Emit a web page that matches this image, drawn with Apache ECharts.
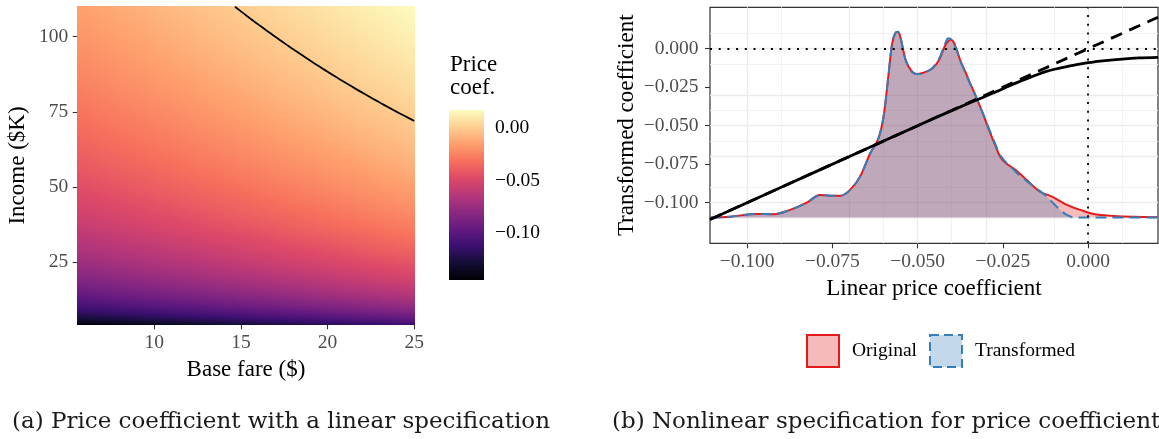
<!DOCTYPE html>
<html>
<head>
<meta charset="utf-8">
<script src="https://cdn.jsdelivr.net/npm/echarts@6/dist/echarts.min.js"></script>
<style>
  html, body { margin: 0; padding: 0; background: #fff; }
  #chart { width: 1159px; height: 439px; }
</style>
</head>
<body>
<div id="chart"></div>
<script>
// ---------- Panel (a): linear specification  β = β0 + βfare·fare + βinc·ln(income) ----------
const surfaceTerms = [-0.2105, 0.00163, 0.0397];   // intercept, base fare ($), ln income ($K)
const fareRange = [5.59, 25];
const incomeRange = [4.2, 110];
const fareTicks = [10, 15, 20, 25];
const incomeTicks = [25, 50, 75, 100];
const coefRange = [-0.1444, 0.0174];
const coefTicks = [0, -0.05, -0.10];
const magma = ['#000004', '#140E36', '#3B0F70', '#641A80', '#8C2981', '#B73779',
               '#DE4968', '#F7705C', '#FE9F6D', '#FECF92', '#FCFDBF'];

// ---------- Panel (b): density of linear vs transformed coefficients ----------
const linearRange = [-0.1109, 0.0205];
const transRange = [-0.1264, 0.0269];
const linTicks = [-0.1, -0.075, -0.05, -0.025, 0];
const transTicks = [0, -0.025, -0.05, -0.075, -0.1];
const linMinor = [-0.0875, -0.0625, -0.0375, -0.0125, 0.0125];
const transMinor = [0.025, 0.0125, -0.0125, -0.0375, -0.0625, -0.0875, -0.1125, -0.125];
const zeroLines = [0];
const densityBase = -0.1097;
const densityX = [-0.1109, -0.1050, -0.0972, -0.0923, -0.0874, -0.0825, -0.0786, -0.0757, -0.0727,
  -0.0698, -0.0669, -0.0639, -0.0615, -0.0600, -0.0586, -0.0575, -0.0566, -0.0558, -0.0550, -0.0535,
  -0.0519, -0.0504, -0.0483, -0.0457, -0.0437, -0.0421, -0.0410, -0.0402, -0.0395, -0.0385, -0.0375,
  -0.0360, -0.0344, -0.0330, -0.0317, -0.0302, -0.0287, -0.0272, -0.0258, -0.0240, -0.0219, -0.0200,
  -0.0180, -0.0160, -0.0141, -0.0121, -0.0106, -0.0082, -0.0062, -0.0043, -0.0023, 0.0016, 0.0074,
  0.0130, 0.0205];
const densityOriginal = [-0.1097, -0.1091, -0.1073, -0.1075, -0.1047, -0.1000, -0.0950, -0.0955, -0.0955,
  -0.0917, -0.0831, -0.0679, -0.0582, -0.0442, -0.0180, 0.0030, 0.0100, 0.0110, 0.0070, -0.0074,
  -0.0143, -0.0165, -0.0156, -0.0128, -0.0074, 0.0013, 0.0050, 0.0058, 0.0045, -0.0009, -0.0075,
  -0.0150, -0.0235, -0.0305, -0.0375, -0.0460, -0.0549, -0.0630, -0.0701, -0.0745, -0.0777, -0.0812,
  -0.0853, -0.0895, -0.0929, -0.0948, -0.0961, -0.0990, -0.1015, -0.1032, -0.1047, -0.1073, -0.1086,
  -0.1092, -0.1094];
const densityTransformed = [-0.1097, -0.1091, -0.1073, -0.1075, -0.1047, -0.1000, -0.0950, -0.0955, -0.0955,
  -0.0917, -0.0831, -0.0679, -0.0582, -0.0442, -0.0180, 0.0030, 0.0100, 0.0110, 0.0070, -0.0074,
  -0.0143, -0.0165, -0.0158, -0.0125, -0.0065, 0.0025, 0.0068, 0.0062, 0.0040, -0.0015, -0.0080,
  -0.0155, -0.0240, -0.0305, -0.0375, -0.0455, -0.0540, -0.0620, -0.0690, -0.0740, -0.0785, -0.0825,
  -0.0860, -0.0895, -0.0925, -0.0961, -0.0995, -0.1047, -0.1080, -0.1095, -0.1097, -0.1097, -0.1097,
  -0.1097, -0.1097];
const transformX = [-0.1109, -0.090, -0.070, -0.050, -0.040, -0.032, -0.027, -0.022, -0.017, -0.012,
  -0.006, 0, 0.005, 0.010, 0.015, 0.0205];
const transformY = [-0.1109, -0.0900, -0.0700, -0.0500, -0.0402, -0.0327, -0.0280, -0.0230, -0.0186,
  -0.0145, -0.0115, -0.0091, -0.0077, -0.0067, -0.0060, -0.0056];
const identityX = [-0.1109, 0.0205];

// ---------- derived series data ----------
const coefAt = (fare, income) => surfaceTerms[0] + surfaceTerms[1] * fare + surfaceTerms[2] * Math.log(income);

const nFare = 80, nIncome = 320;
const dFare = (fareRange[1] - fareRange[0]) / nFare;
const dIncome = (incomeRange[1] - incomeRange[0]) / nIncome;
const surface = [];
for (let i = 0; i < nFare; i++) {
  for (let j = 0; j < nIncome; j++) {
    const f = fareRange[0] + (i + 0.5) * dFare;
    const inc = incomeRange[0] + (j + 0.5) * dIncome;
    surface.push([f, inc, coefAt(f, inc)]);
  }
}

// zero contour of the surface: income where β = 0
const fareAtTop = (-surfaceTerms[0] - surfaceTerms[2] * Math.log(incomeRange[1])) / surfaceTerms[1];
const contour = [];
for (let k = 0; k <= 60; k++) {
  const f = fareAtTop + (fareRange[1] - fareAtTop) * k / 60;
  contour.push([f, Math.exp((-surfaceTerms[0] - surfaceTerms[1] * f) / surfaceTerms[2])]);
}

// colour ramp for the legend bar
const nRamp = 170;
const dRamp = (coefRange[1] - coefRange[0]) / nRamp;
const ramp = [];
for (let k = 0; k < nRamp; k++) {
  const v = coefRange[0] + (k + 0.5) * dRamp;
  ramp.push([0.5, v, v]);
}

// densities are drawn as heights above their common baseline (hidden axis shifted by the baseline)
const origHeight = densityX.map((x, i) => [x, densityOriginal[i] - densityBase]);
const transHeight = densityX.map((x, i) => [x, densityTransformed[i] - densityBase]);
const transformLine = transformX.map((x, i) => [x, transformY[i]]);
const identityLine = identityX.map(x => [x, x]);

const fmt = d => v => (v < 0 ? '\u2212' : '') + Math.abs(v).toFixed(d);

const SERIF = 'Liberation Serif';
const tickText = { fontFamily: SERIF, fontSize: 19.5, color: '#4D4D4D' };
const titleText = { fontFamily: SERIF, fontSize: 23, color: '#000' };
const tickLine = { lineStyle: { color: '#333', width: 1.1 } };
const noLine = { show: false, onZero: false };

const gridMark = [];
linTicks.forEach(v => gridMark.push({ xAxis: v, lineStyle: { color: '#EBEBEB', width: 1.3, type: 'solid' } }));
transTicks.forEach(v => gridMark.push({ yAxis: v, lineStyle: { color: '#EBEBEB', width: 1.3, type: 'solid' } }));
linMinor.forEach(v => gridMark.push({ xAxis: v, lineStyle: { color: '#F0F0F0', width: 0.9, type: 'solid' } }));
transMinor.forEach(v => gridMark.push({ yAxis: v, lineStyle: { color: '#F0F0F0', width: 0.9, type: 'solid' } }));

// draws one pixel-snapped cell so neighbouring cells meet without seams
const snappedRect = (api, x0, y1, w, h) => {
  const p = api.coord([x0, y1]);
  const s = api.size([w, h]);
  const l = Math.floor(p[0]), t = Math.floor(p[1]);
  const r = Math.ceil(p[0] + s[0]), b = Math.ceil(p[1] + s[1]);
  return { type: 'rect', shape: { x: l, y: t, width: r - l, height: b - t },
           style: { fill: api.visual('color') } };
};

const chart = echarts.init(document.getElementById('chart'), null, { renderer: 'canvas' });

chart.setOption({
  animation: false,
  backgroundColor: '#fff',
  title: [
    { text: 'Price\ncoef.', left: 450, top: 53, padding: 0,
      textStyle: { fontFamily: SERIF, fontSize: 23, lineHeight: 23, fontWeight: 'normal', color: '#000' } },
    { text: '(a) Price coefficient with a linear specification', left: 12, top: 411, padding: 0,
      textStyle: { fontFamily: 'DejaVu Serif', fontSize: 23, fontWeight: 'normal', color: '#1a1a1a' } },
    { text: '(b) Nonlinear specification for price coefficient', left: 612, top: 411, padding: 0,
      textStyle: { fontFamily: 'DejaVu Serif', fontSize: 23, fontWeight: 'normal', color: '#1a1a1a' } }
  ],
  legend: {
    left: 801, top: 329, orient: 'horizontal',
    itemWidth: 32, itemHeight: 32, itemGap: 12,
    selectedMode: false,
    textStyle: { fontFamily: SERIF, fontSize: 19.5, color: '#000', padding: [0, 0, 0, 8] },
    data: [
      { name: 'Original', icon: 'rect',
        itemStyle: { color: 'rgba(228,26,28,0.3)', borderColor: '#E41A1C', borderWidth: 2 } },
      { name: 'Transformed', icon: 'rect',
        itemStyle: { color: 'rgba(55,126,184,0.3)', borderColor: '#377EB8', borderWidth: 2, borderType: [9, 5] } }
    ]
  },
  visualMap: {
    type: 'continuous', show: false, dimension: 2,
    min: coefRange[0], max: coefRange[1],
    seriesIndex: [0, 2],
    inRange: { color: magma }
  },
  grid: [
    { left: 77.7, top: 6.7, width: 336.6, height: 317.6, show: true, borderColor: '#333', borderWidth: 1.2, backgroundColor: 'transparent' },
    { left: 710, top: 7.3, width: 448, height: 236, show: true, borderColor: '#333', borderWidth: 1.2, backgroundColor: 'transparent' },
    { left: 449, top: 110, width: 35, height: 169.3, show: false }
  ],
  xAxis: [
    { gridIndex: 0, type: 'value', min: fareRange[0], max: fareRange[1],
      name: 'Base fare ($)', nameLocation: 'middle', nameGap: 31, nameTextStyle: titleText,
      axisLine: noLine, splitLine: { show: false },
      axisTick: { show: true, length: 5, customValues: fareTicks, ...tickLine },
      axisLabel: { customValues: fareTicks, margin: 9, ...tickText } },
    { gridIndex: 1, type: 'value', min: linearRange[0], max: linearRange[1],
      name: 'Linear price coefficient', nameLocation: 'middle', nameGap: 32, nameTextStyle: titleText,
      axisLine: noLine, splitLine: { show: false },
      axisTick: { show: true, length: 5, customValues: linTicks, ...tickLine },
      axisLabel: { customValues: linTicks, margin: 9, formatter: fmt(3), ...tickText } },
    { gridIndex: 2, type: 'value', min: 0, max: 1, show: false, axisLine: noLine }
  ],
  yAxis: [
    { gridIndex: 0, type: 'value', min: incomeRange[0], max: incomeRange[1],
      name: 'Income ($K)', nameLocation: 'middle', nameGap: 48, nameTextStyle: titleText,
      axisLine: noLine, splitLine: { show: false },
      axisTick: { show: true, length: 5, customValues: incomeTicks, ...tickLine },
      axisLabel: { customValues: incomeTicks, margin: 9.5, ...tickText } },
    { gridIndex: 1, type: 'value', min: transRange[0], max: transRange[1],
      name: 'Transformed coefficient', nameLocation: 'middle', nameGap: 72, nameTextStyle: titleText,
      axisLine: noLine, splitLine: { show: false },
      axisTick: { show: true, length: 5, customValues: transTicks, ...tickLine },
      axisLabel: { customValues: transTicks, margin: 11.5, formatter: fmt(3), ...tickText } },
    { gridIndex: 2, type: 'value', min: coefRange[0], max: coefRange[1], position: 'right',
      axisLine: noLine, splitLine: { show: false },
      axisTick: { show: true, inside: true, length: 7, customValues: coefTicks,
                  lineStyle: { color: 'rgba(255,255,255,0.85)', width: 1 } },
      axisLabel: { customValues: coefTicks, margin: 11, formatter: fmt(2),
                   fontFamily: SERIF, fontSize: 19.5, color: '#000' } },
    { gridIndex: 2, type: 'value', min: coefRange[0], max: coefRange[1], position: 'left',
      axisLine: noLine, splitLine: { show: false },
      axisTick: { show: true, inside: true, length: 7, customValues: coefTicks,
                  lineStyle: { color: 'rgba(255,255,255,0.85)', width: 1 } },
      axisLabel: { show: false } },
    // density height above the baseline, sharing panel (b)'s vertical scale
    { gridIndex: 1, type: 'value', show: false, axisLine: noLine, splitLine: { show: false },
      min: transRange[0] - densityBase, max: transRange[1] - densityBase }
  ],
  series: [
    // 0: coefficient surface
    { type: 'custom', name: 'surface', xAxisIndex: 0, yAxisIndex: 0, clip: true, silent: true,
      data: surface,
      renderItem: (params, api) =>
        snappedRect(api, api.value(0) - dFare / 2, api.value(1) + dIncome / 2, dFare, dIncome) },
    // 1: zero contour
    { type: 'line', name: 'contour', xAxisIndex: 0, yAxisIndex: 0, data: contour, showSymbol: false,
      smooth: false, silent: true, lineStyle: { color: '#000', width: 1.8 }, z: 3 },
    // 2: colour bar
    { type: 'custom', name: 'colourbar', xAxisIndex: 2, yAxisIndex: 2, silent: true, data: ramp,
      renderItem: (params, api) => snappedRect(api, 0, api.value(1) + dRamp / 2, 1, dRamp) },
    // 3: Original density
    { type: 'line', name: 'Original', xAxisIndex: 1, yAxisIndex: 4, data: origHeight,
      showSymbol: false, smooth: 0.35, silent: true, z: 2,
      lineStyle: { color: '#E41A1C', width: 2 }, itemStyle: { color: '#E41A1C' },
      areaStyle: { color: 'rgba(228,26,28,0.3)', opacity: 1 } },
    // 4: Transformed density
    { type: 'line', name: 'Transformed', xAxisIndex: 1, yAxisIndex: 4, data: transHeight,
      showSymbol: false, smooth: 0.35, silent: true, z: 2,
      lineStyle: { color: '#377EB8', width: 2, type: [11, 6] }, itemStyle: { color: '#377EB8' },
      areaStyle: { color: 'rgba(55,126,184,0.3)', opacity: 1 } },
    // 5: identity (untransformed) line, plus dotted zero reference lines
    { type: 'line', name: 'identity', xAxisIndex: 1, yAxisIndex: 1, data: identityLine, showSymbol: false,
      silent: true, z: 3, lineStyle: { color: '#000', width: 2.8, type: [12, 8] },
      markLine: { silent: true, symbol: ['none', 'none'], label: { show: false }, animation: false, z: 4,
                  lineStyle: { color: '#000', width: 1.8, type: [2, 6.7] },
                  data: zeroLines.map(v => ({ yAxis: v })).concat(zeroLines.map(v => ({ xAxis: v }))) } },
    // 6: transformation curve, plus panel grid lines underneath everything
    { type: 'line', name: 'transform', xAxisIndex: 1, yAxisIndex: 1, data: transformLine, showSymbol: false,
      smooth: 0.3, silent: true, z: 3, lineStyle: { color: '#000', width: 2.8 },
      markLine: { silent: true, symbol: ['none', 'none'], label: { show: false }, z: 1,
                  animation: false, data: gridMark } }
  ]
});
</script>
</body>
</html>
